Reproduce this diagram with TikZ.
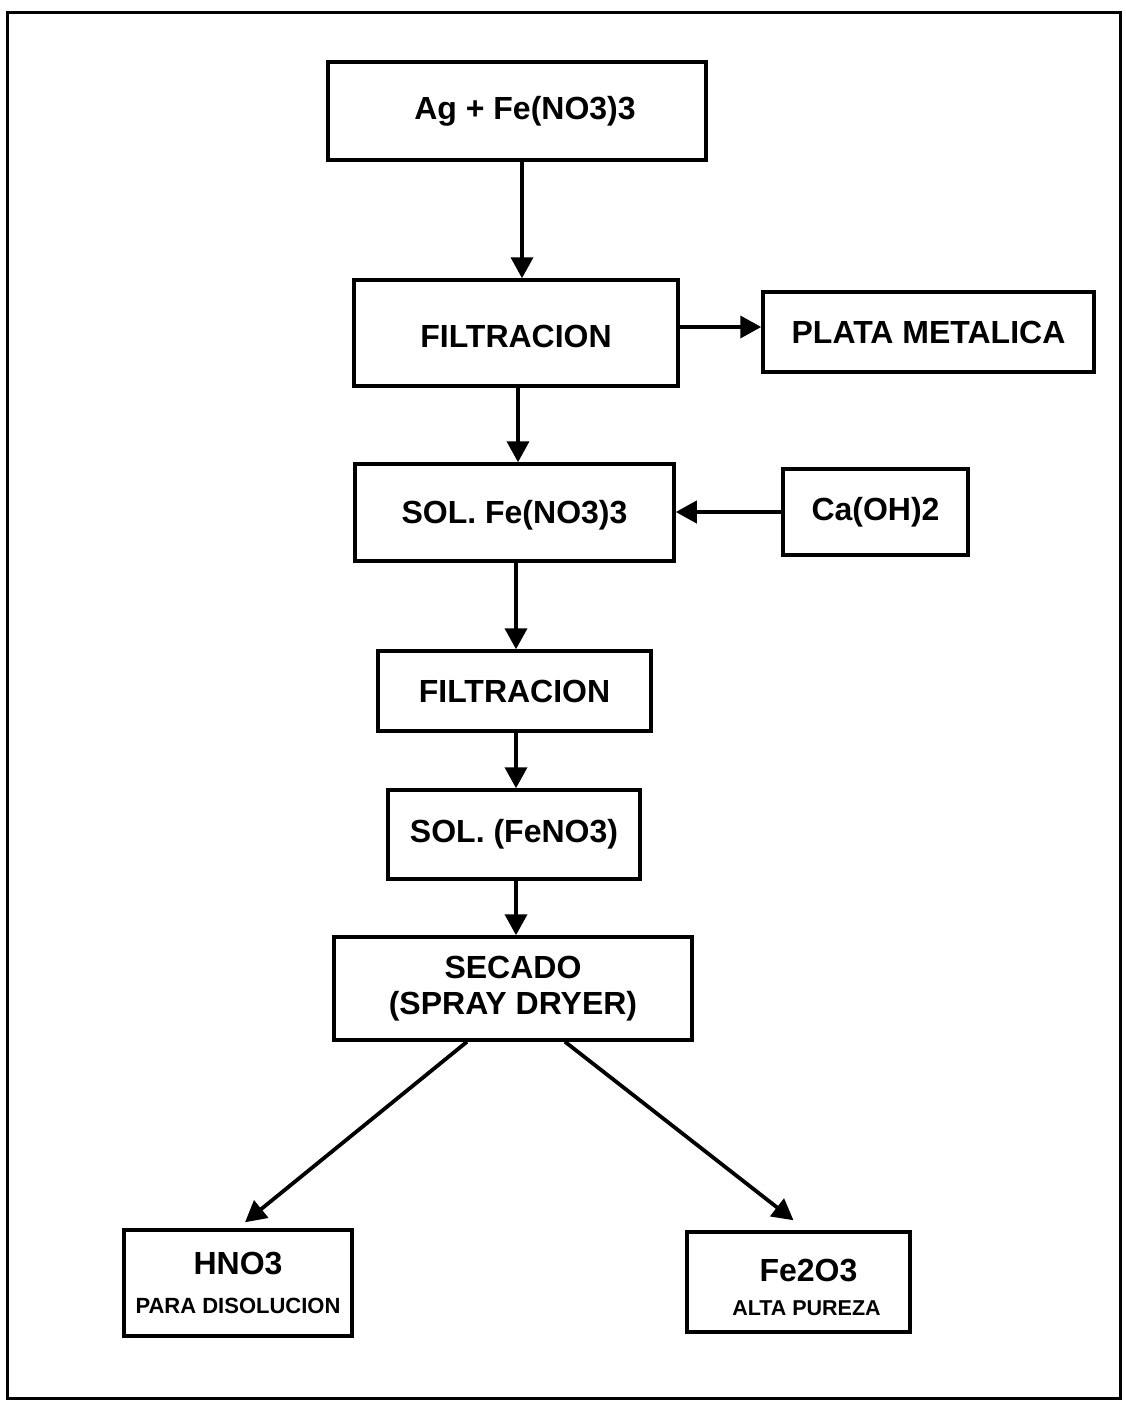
\documentclass[tikz,border=0pt]{standalone}
\usepackage{fontspec}
\setmainfont{Liberation Sans}
\usetikzlibrary{arrows.meta}
\begin{document}
\begin{tikzpicture}[x=1pt,y=-1pt,
  box/.style={draw, line width=3.5pt, inner sep=0pt, align=center,
    font=\bfseries\fontsize{32}{36}\selectfont},
  arr/.style={line width=3.8pt, -{Triangle[length=21pt,width=22pt]}}]
\useasboundingbox (0,0) rectangle (1125,1403);
\node[draw, line width=3pt, minimum width=1113pt, minimum height=1386pt, inner sep=0pt] (frame) at (563.5,705) {};

\node[box, minimum width=378pt, minimum height=98pt] (top) at (517,111) {\hspace*{16pt}Ag + Fe(NO3)3};
\node[box, minimum width=324pt, minimum height=106pt] (f1) at (516,333) {\rule{0pt}{30pt}FILTRACION};
\node[box, minimum width=331pt, minimum height=80pt] (plata) at (928.5,332) {PLATA METALICA};
\node[box, minimum width=319pt, minimum height=97pt] (sol1) at (514.5,512.5) {\rule{0pt}{28pt}SOL. Fe(NO3)3};
\node[box, minimum width=185pt, minimum height=86pt] (ca) at (875.5,512) {Ca(OH)2};
\node[box, minimum width=273pt, minimum height=80pt] (f2) at (514.5,691) {FILTRACION};
\node[box, minimum width=252pt, minimum height=89pt] (sol2) at (514,834.5) {SOL. (FeNO3)};
\node[box, minimum width=358pt, minimum height=103pt] (sec) at (513,988.5) {SECADO\\(SPRAY DRYER)};
\node[box, minimum width=228pt, minimum height=106pt] (hno) at (238,1283)
  {HNO3\\[3pt]{\fontsize{22}{24}\selectfont PARA DISOLUCION}};
\node[box, minimum width=223pt, minimum height=100pt] (fe) at (798.5,1282)
  {\rule{0pt}{34pt}\hspace*{20pt}Fe2O3\\[-2pt]\hspace*{16pt}{\fontsize{21.5}{24}\selectfont ALTA PUREZA}};

\draw[arr] ([xshift=5pt]top.south) -- ([xshift=6pt]f1.north);
\draw[arr] ([yshift=6pt]f1.east) -- ([yshift=5pt]plata.west);
\draw[arr] ([xshift=2pt]f1.south) -- ([xshift=3.5pt]sol1.north);
\draw[arr] (ca.west) -- (ca.west -| sol1.east);
\draw[arr] ([xshift=1.5pt]sol1.south) -- ([xshift=1.5pt]f2.north);
\draw[arr] ([xshift=1.5pt]f2.south) -- ([xshift=2pt]sol2.north);
\draw[arr] ([xshift=2pt]sol2.south) -- ([xshift=3pt]sec.north);
\draw[arr] ([xshift=-46pt]sec.south) -- ([xshift=7pt,yshift=6pt]hno.north);
\draw[arr] ([xshift=52pt]sec.south) -- ([xshift=-5pt,yshift=10pt]fe.north);
\end{tikzpicture}
\end{document}
